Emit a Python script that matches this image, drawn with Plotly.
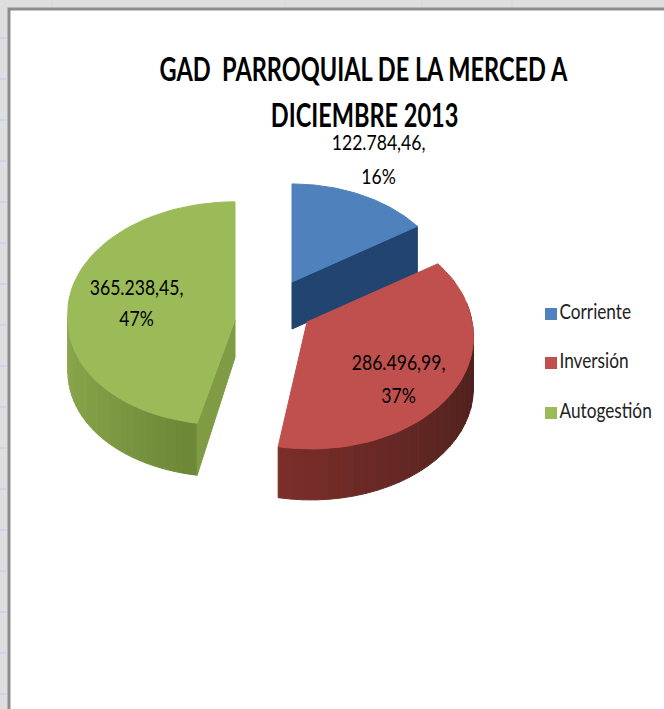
import math
import plotly.graph_objects as go

# ---- data ----
categories = ["Corriente", "Inversión", "Autogestión"]
values = [122784.46, 286496.99, 365238.45]
title_lines = ["GAD\u00a0 PARROQUIAL DE LA MERCED A", "DICIEMBRE 2013"]

# ---- style ----
top_colors = ["#4f81bd", "#c0504d", "#9bbb59"]
wall_colors = [
    [(36, 72, 118), (32, 64, 106)],
    [(122, 46, 42), (92, 38, 34), (72, 30, 26)],
    [(140, 168, 78), (128, 156, 68), (108, 136, 56)],
]
face_colors = ["#234873", "#6b2a26", "#7f9c44"]
FONT = "Lato"
W, H = 664, 709

# projection of every exploded slice: centre, radius, tilt, perspective, depth, lean of the near side
proj = [
    dict(cx=292, cy=282, R=158, T=0.687, k=0.107, d=47, lean=0, wall=None),
    dict(cx=307, cy=322, R=165, T=0.687, k=0.107, d=51, lean=-4, wall=(80, None)),
    dict(cx=235, cy=320, R=167, T=0.665, k=-0.06, d=52, lean=10, wall=(None, 272)),
]
label_pos = [(378, 141, 175), (398, 361, 394), (136, 286, 317)]
legend_x = 551
legend_y = [314, 363, 413]
# horizontal condensing of the installed font toward the reference's narrow face
POST = """
document.body.style.margin='0';document.body.style.overflow='hidden';
function squeeze(el,f){var n=el.getComputedTextLength();
 el.setAttribute('textLength',n*f);el.setAttribute('lengthAdjust','spacingAndGlyphs');}
document.querySelectorAll('.annotation-text').forEach(function(el){
 squeeze(el, parseFloat(el.style.fontSize)>25 ? 0.735 : 0.80);});
document.querySelectorAll('.textpoint text').forEach(function(el){squeeze(el,0.82);});
"""


def rim(p, deg, drop=0.0):
    t = math.radians(deg)
    c = math.cos(t)
    s = 1.0 / (1.0 + p["k"] * c)
    return (p["cx"] + p["R"] * math.sin(t) * s - p["lean"] * max(0.0, -c),
            p["cy"] - p["R"] * p["T"] * c * s + drop)


def arc(p, a, b, drop=0.0, n=60):
    return [rim(p, a + (b - a) * i / n, drop) for i in range(n + 1)]


def mix(stops, f):
    f = max(0.0, min(1.0, f)) * (len(stops) - 1)
    i = min(int(f), len(stops) - 2)
    u = f - i
    c = [stops[i][j] + (stops[i + 1][j] - stops[i][j]) * u for j in range(3)]
    return "rgb(%d,%d,%d)" % tuple(c)


def poly(fig, pts, color):
    xs = [q[0] for q in pts] + [pts[0][0]]
    ys = [q[1] for q in pts] + [pts[0][1]]
    fig.add_trace(go.Scatter(x=xs, y=ys, mode="lines", fill="toself", fillcolor=color,
                             line=dict(color=color, width=1), hoverinfo="skip",
                             showlegend=False))


def es(v):
    return f"{v:,.2f}".replace(",", "#").replace(".", ",").replace("#", ".")


fig = go.Figure()
total = sum(values)
start = 0.0
for i, v in enumerate(values):
    p = proj[i]
    end = start + 360.0 * v / total
    apex = (p["cx"], p["cy"])
    if i == 0:
        e = rim(p, end)
        poly(fig, [apex, e, (e[0], e[1] + p["d"]), (apex[0], apex[1] + p["d"])],
             mix(wall_colors[0], 0.5))
    elif i == 1:
        a = p["wall"][0]
        segs = 28
        for j in range(segs):
            u0 = a + (end - a) * j / segs
            u1 = a + (end - a) * (j + 1) / segs
            poly(fig, arc(p, u0, u1, 0, 3) + arc(p, u1, u0, p["d"], 3),
                 mix(wall_colors[1], 1 - j / (segs - 1)))
    else:
        b = p["wall"][1]
        segs = 28
        for j in range(segs):
            u0 = start + (b - start) * j / segs
            u1 = start + (b - start) * (j + 1) / segs
            poly(fig, arc(p, u0, u1, 0, 3) + arc(p, u1, u0, p["d"], 3),
                 mix(wall_colors[2], 1 - j / (segs - 1)))
        e = rim(p, start)
        poly(fig, [apex, e, (e[0], e[1] + p["d"]), (apex[0], apex[1] + p["d"] * 0.72)],
             face_colors[2])
    poly(fig, [apex] + arc(p, start, end), top_colors[i])
    start = end

# legend: swatch and name
for name, col, y in zip(categories, top_colors, legend_y):
    fig.add_trace(go.Scatter(x=[legend_x], y=[y], mode="markers+text", name=name, text=[name],
                             textposition="middle right", showlegend=False, hoverinfo="skip",
                             textfont=dict(family=FONT, size=21, color="#222222"),
                             marker=dict(symbol="square", size=12, color=col)))

# data labels
for v, (x, y1, y2) in zip(values, label_pos):
    for txt, y in ((es(v) + ",", y1), (f"{round(100 * v / total)}%", y2)):
        fig.add_annotation(x=x, y=y, text=txt, showarrow=False,
                           font=dict(family=FONT, size=22, color="#000000"))

# title
for txt, y in zip(title_lines, (68, 114)):
    fig.add_annotation(x=364, y=y, text=txt, showarrow=False,
                       font=dict(family=FONT, size=32, weight=700, color="#000000"))

shapes = []
for n in range(17):
    yy = 38 + 41 * n
    shapes.append(dict(type="line", layer="below", x0=0, x1=7, y0=yy, y1=yy,
                       line=dict(color="#ccd6ea", width=2)))
for xx in (52, 285, 422, 512):
    shapes.append(dict(type="line", layer="below", x0=xx, x1=xx, y0=0, y1=7,
                       line=dict(color="#ccd6ea", width=1)))
shapes.append(dict(type="rect", layer="below", x0=9, x1=W + 10, y0=9, y1=H + 10,
                   fillcolor="#ffffff", line=dict(color="#8c8c8c", width=3)))

fig.update_layout(
    width=W, height=H, margin=dict(l=0, r=0, t=0, b=0, autoexpand=False), autosize=False,
    paper_bgcolor="#dedede", plot_bgcolor="rgba(0,0,0,0)", showlegend=False,
    xaxis=dict(range=[0, W], visible=False, fixedrange=True),
    yaxis=dict(range=[H, 0], visible=False, fixedrange=True),
    shapes=shapes,
)
fig.write_html("out.html", config=dict(displayModeBar=False), post_script=POST)
